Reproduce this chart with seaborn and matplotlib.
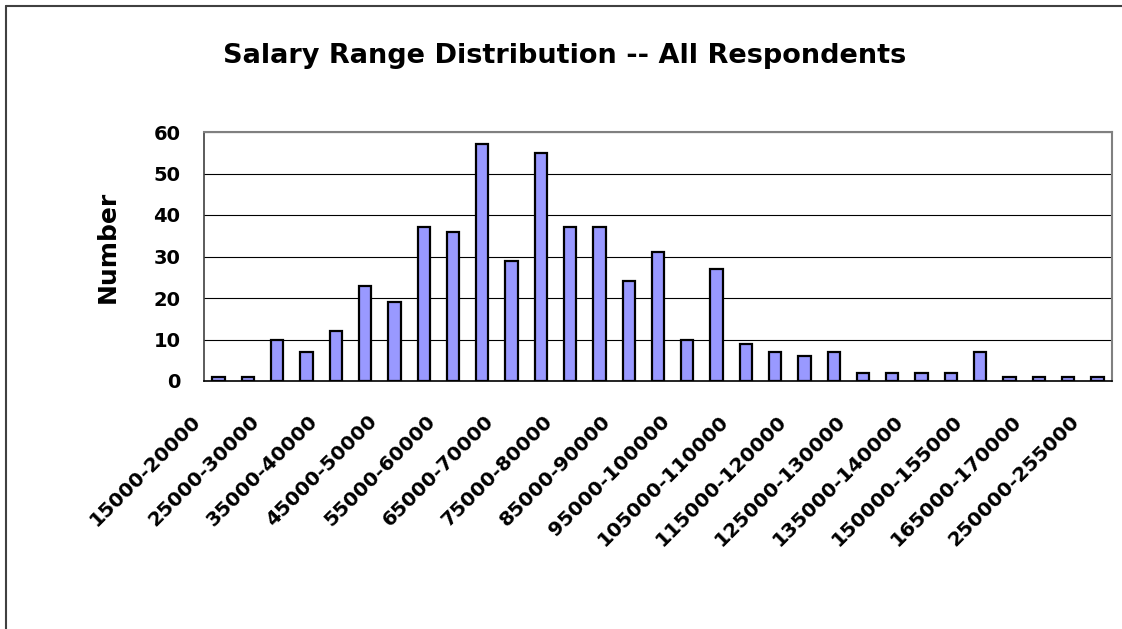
import matplotlib
matplotlib.use('Agg')
import numpy as np
import pandas as pd
import matplotlib.pyplot as plt
import matplotlib.transforms as mtransforms
from matplotlib.lines import Line2D
import seaborn as sns

# Salary ranges (every other one is labelled on the axis)
salary_ranges = ['15000-20000', '20000-25000', '25000-30000', '30000-35000',
                 '35000-40000', '40000-45000', '45000-50000', '50000-55000',
                 '55000-60000', '60000-65000', '65000-70000', '70000-75000',
                 '75000-80000', '80000-85000', '85000-90000', '90000-95000',
                 '95000-100000', '100000-105000', '105000-110000', '110000-115000',
                 '115000-120000', '120000-125000', '125000-130000', '130000-135000',
                 '135000-140000', '140000-145000', '150000-155000', '155000-160000',
                 '165000-170000', '180000-185000', '250000-255000']
counts = [1, 1, 10, 7, 12, 23, 19, 37, 36, 57, 29, 55, 37, 37, 24, 31,
          10, 27, 9, 7, 6, 7, 2, 2, 2, 2, 7, 1, 1, 1, 1]
y_ticks = [0, 10, 20, 30, 40, 50, 60]

df = pd.DataFrame({'range': salary_ranges, 'count': counts})

sns.set_style('white')
plt.rcParams['font.family'] = ['DejaVu Sans']
plt.rcParams['text.color'] = 'black'
plt.rcParams['axes.labelcolor'] = 'black'
plt.rcParams['xtick.color'] = 'black'
plt.rcParams['ytick.color'] = 'black'

fig = plt.figure(figsize=(11.22, 6.29), dpi=100)
ax = fig.add_axes([204/1122, 1 - 381/629, 908/1122, 249/629])

sns.barplot(data=df, x='range', y='count', color='#9999FF', saturation=1,
            width=0.42, edgecolor='black', linewidth=1.6, ax=ax)

ax.set_xlim(-0.5, len(salary_ranges) - 0.5)
ax.set_ylim(0, 60)
ax.set_yticks(y_ticks)
ax.set_yticklabels([str(v) for v in y_ticks], fontsize=14, fontweight='bold')
ax.yaxis.grid(True, color='black', linewidth=0.8)
ax.set_axisbelow(True)

# labels on every other category, tick marks on category boundaries
ax.set_xticks(range(0, len(salary_ranges), 2))
ax.set_xticklabels(salary_ranges[::2], rotation=45, ha='right',
                   fontsize=14.5, fontweight='bold')
ax.set_xticks(np.arange(-0.5, len(salary_ranges), 1), minor=True)
ax.tick_params(axis='x', which='major', length=0, pad=22)
ax.tick_params(axis='x', which='minor', length=7, width=1, color='black', direction='out')
ax.tick_params(axis='y', which='major', length=7, width=1, color='black',
               direction='out', pad=10)
shift = mtransforms.ScaledTranslation(-14/100, 0, fig.dpi_scale_trans)
for lab in ax.get_xticklabels():
    lab.set_transform(lab.get_transform() + shift)

ax.set_xlabel('')
ax.set_ylabel('Number', fontsize=18, fontweight='bold')
ax.yaxis.set_label_coords(-0.093, 0.54)

for side in ['top', 'right']:
    ax.spines[side].set_color('#808080')
    ax.spines[side].set_linewidth(1.5)
ax.spines['left'].set_color('#404040')
ax.spines['left'].set_linewidth(1.2)
ax.spines['bottom'].set_color('black')
ax.spines['bottom'].set_linewidth(1.2)

fig.text(565/1122, 1 - 63/629, 'Salary Range Distribution -- All Respondents',
         ha='center', va='baseline', fontsize=19.5, fontweight='bold')

# outer chart frame (left and top edges visible)
fig.add_artist(Line2D([6/1122, 6/1122], [0, 1 - 6/629], transform=fig.transFigure,
                      color='#404040', linewidth=1.5))
fig.add_artist(Line2D([6/1122, 1], [1 - 6/629, 1 - 6/629], transform=fig.transFigure,
                      color='#404040', linewidth=1.5))

fig.savefig('out.png', dpi=100)
